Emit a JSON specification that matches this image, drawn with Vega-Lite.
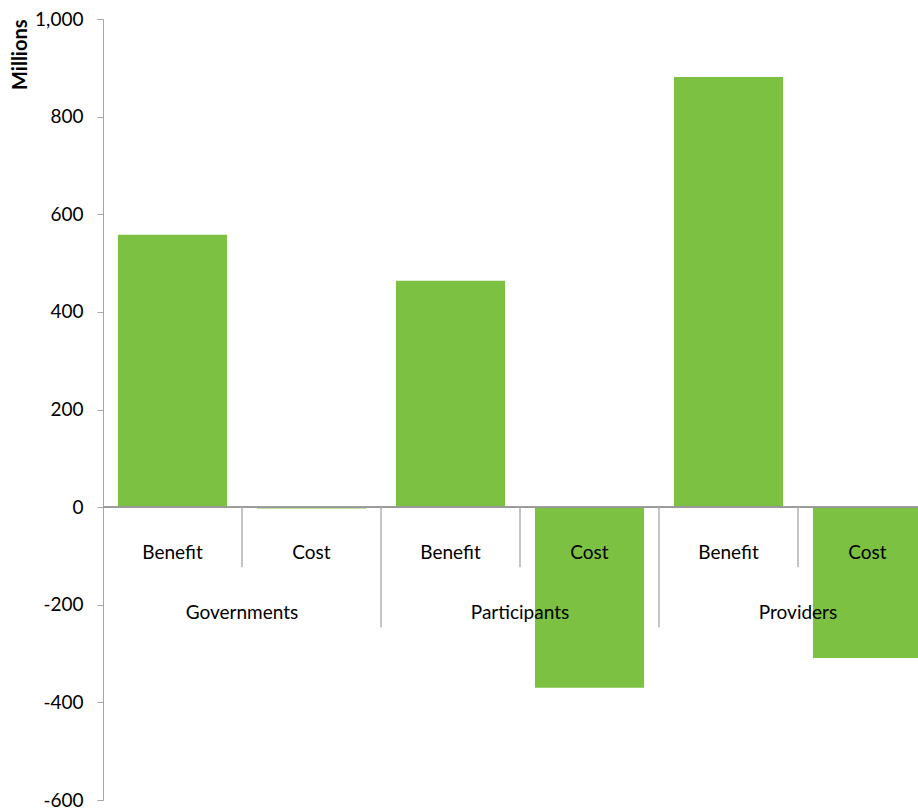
{
  "$schema": "https://vega.github.io/schema/vega-lite/v6.json",
  "autosize": {"type": "none"},
  "padding": {"left": 103, "top": 19, "right": 0, "bottom": 10},
  "width": 815,
  "height": 781,
  "background": "white",
  "config": {"view": {"stroke": null}, "font": "Lato"},
  "data": {"values": [
    {"group": "Governments", "item": "Benefit", "cat": "Governments Benefit", "value": 558},
    {"group": "Governments", "item": "Cost", "cat": "Governments Cost", "value": -3},
    {"group": "Participants", "item": "Benefit", "cat": "Participants Benefit", "value": 464},
    {"group": "Participants", "item": "Cost", "cat": "Participants Cost", "value": -370},
    {"group": "Providers", "item": "Benefit", "cat": "Providers Benefit", "value": 881},
    {"group": "Providers", "item": "Cost", "cat": "Providers Cost", "value": -309}
  ]},
  "layer": [
    {
      "mark": {"type": "bar", "color": "#7CC142", "width": {"band": 0.785}, "clip": true},
      "encoding": {
        "x": {"field": "cat", "type": "nominal", "sort": null, "axis": null,
              "scale": {"type": "band", "paddingInner": 0, "paddingOuter": 0, "range": [0, 834]}},
        "y": {"field": "value", "type": "quantitative",
              "scale": {"domain": [-600, 1000], "nice": false, "zero": false},
              "axis": {"values": [-600, -400, -200, 0, 200, 400, 600, 800, 1000], "format": ",d",
                       "labelExpr": "replace(datum.label, '\u2212', '-')",
                       "grid": false, "domainColor": "#A6A6A6", "tickColor": "#A6A6A6", "tickSize": 6,
                       "labelFont": "Lato", "labelFontSize": 19, "labelColor": "#000000", "labelPadding": 14,
                       "title": "Millions", "titleFont": "Lato", "titleFontSize": 20, "titleFontWeight": "bold",
                       "titleColor": "#000000", "titleAnchor": "end", "titlePadding": 4}}
      }
    },
    {
      "mark": {"type": "rule", "color": "#999999", "strokeWidth": 1},
      "encoding": {"y": {"datum": 0, "type": "quantitative"}}
    },
    {
      "transform": [{"filter": "datum.item == 'Cost'"}],
      "mark": {"type": "rule", "color": "#B0B0B0", "strokeWidth": 1.5, "y2Offset": 60},
      "encoding": {
        "x": {"field": "cat", "type": "nominal", "sort": null, "bandPosition": 0},
        "y": {"datum": 0, "type": "quantitative"},
        "y2": {"datum": 0}
      }
    },
    {
      "transform": [{"filter": "datum.item == 'Benefit' && datum.group != 'Governments'"}],
      "mark": {"type": "rule", "color": "#B0B0B0", "strokeWidth": 1.5, "y2Offset": 120},
      "encoding": {
        "x": {"field": "cat", "type": "nominal", "sort": null, "bandPosition": 0},
        "y": {"datum": 0, "type": "quantitative"},
        "y2": {"datum": 0}
      }
    },
    {
      "mark": {"type": "text", "font": "Lato", "fontSize": 19, "color": "#000000", "baseline": "middle", "dy": 46},
      "encoding": {
        "x": {"field": "cat", "type": "nominal", "sort": null},
        "y": {"datum": 0, "type": "quantitative"},
        "text": {"field": "item"}
      }
    },
    {
      "transform": [{"filter": "datum.item == 'Cost'"}],
      "mark": {"type": "text", "font": "Lato", "fontSize": 19, "color": "#000000", "baseline": "middle", "dy": 106},
      "encoding": {
        "x": {"field": "cat", "type": "nominal", "sort": null, "bandPosition": 0},
        "y": {"datum": 0, "type": "quantitative"},
        "text": {"field": "group"}
      }
    }
  ]
}
